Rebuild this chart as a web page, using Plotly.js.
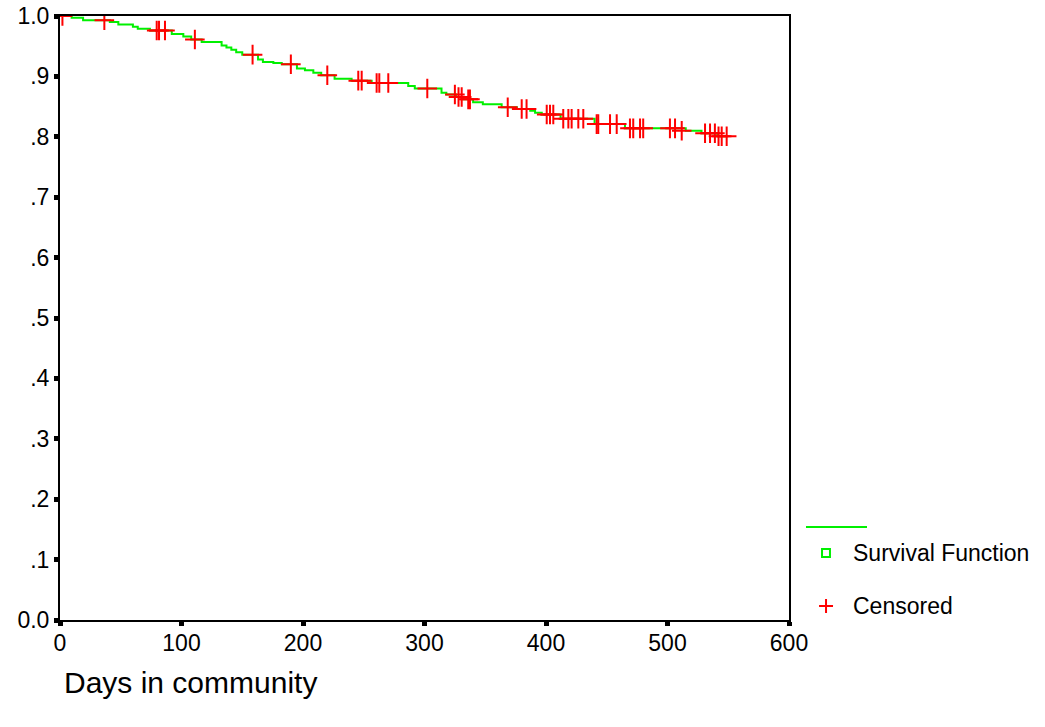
<!DOCTYPE html>
<html>
<head>
<meta charset="utf-8">
<script src="https://cdn.plot.ly/plotly-3.0.1.min.js"></script>
<style>html,body{margin:0;padding:0;background:#fff;}#chart{width:1045px;height:727px;}</style>
</head>
<body>
<div id="chart"></div>
<script>
// Kaplan-Meier step function (time at which survival steps, survival after step)
const stepTimes = [0, 9.6, 19, 41, 48, 60, 64, 74, 92, 101.5, 108, 116.6, 133, 137, 141, 145, 150, 163, 167, 175.6, 182.5, 195, 201.6, 208.5, 215, 226, 240, 256.5, 286.6, 292, 314, 318, 326, 332, 340, 348, 363.5, 376, 387, 391, 396.5, 412, 440, 465, 515, 528, 541, 548.7];
const stepSurv  = [1.000, 0.997, 0.993, 0.990, 0.986, 0.982, 0.979, 0.976, 0.970, 0.966, 0.961, 0.957, 0.951, 0.948, 0.944, 0.940, 0.936, 0.928, 0.924, 0.922, 0.920, 0.913, 0.910, 0.906, 0.902, 0.896, 0.893, 0.889, 0.884, 0.880, 0.873, 0.870, 0.866, 0.862, 0.857, 0.854, 0.849, 0.846, 0.843, 0.840, 0.837, 0.830, 0.821, 0.814, 0.810, 0.806, 0.801, 0.801];

// Censored observations
const censTimes = [2, 36.5, 79.6, 81.5, 86.4, 111, 158.5, 190, 220, 245.5, 248.3, 260.6, 262.8, 270.2, 302.3, 325, 328, 330.6, 336, 337.4, 368.5, 380, 384, 400.6, 403.3, 406, 414.2, 418.4, 421.1, 426.6, 430.7, 441.7, 443, 452.7, 458.2, 469.1, 471.8, 477.4, 480, 502, 506.2, 511.7, 530.9, 535, 539, 542, 544.6, 548.7];
const censSurv  = [1.000, 0.993, 0.976, 0.976, 0.976, 0.961, 0.936, 0.920, 0.902, 0.893, 0.893, 0.889, 0.889, 0.889, 0.880, 0.870, 0.866, 0.866, 0.862, 0.862, 0.849, 0.846, 0.846, 0.837, 0.837, 0.837, 0.830, 0.830, 0.830, 0.830, 0.830, 0.821, 0.821, 0.821, 0.821, 0.814, 0.814, 0.814, 0.814, 0.814, 0.814, 0.810, 0.806, 0.806, 0.806, 0.801, 0.801, 0.801];

const yTickVals = [0, 0.1, 0.2, 0.3, 0.4, 0.5, 0.6, 0.7, 0.8, 0.9, 1.0];
const yTickText = ['0.0', '.1', '.2', '.3', '.4', '.5', '.6', '.7', '.8', '.9', '1.0'];
const xTickVals = [0, 100, 200, 300, 400, 500, 600];

const FONT = 'Liberation Sans, Arial, sans-serif';

const traces = [
  {
    x: stepTimes, y: stepSurv, mode: 'lines', line: {shape: 'hv', color: '#00f000', width: 2},
    showlegend: false, hoverinfo: 'skip'
  },
  {
    x: censTimes, y: censSurv, mode: 'markers', name: 'Censored', showlegend: false,
    marker: {symbol: 'cross-thin', size: 14, color: '#ff0000', line: {color: '#ff0000', width: 2}}
  }
];

const layout = {
  width: 1045, height: 727,
  margin: {l: 60, r: 256, t: 16, b: 107},
  paper_bgcolor: '#ffffff', plot_bgcolor: '#ffffff',
  font: {family: FONT, size: 23, color: '#000'},
  showlegend: false,
  xaxis: {
    range: [0, 600], tickvals: xTickVals, ticktext: xTickVals.map(String),
    showgrid: false, zeroline: false, showline: true, linecolor: '#000', linewidth: 2, mirror: true,
    ticks: 'outside', ticklen: 4, tickwidth: 5, tickcolor: '#000', ticklabelstandoff: -3,
    tickfont: {family: FONT, size: 23, color: '#000'}
  },
  yaxis: {
    range: [0, 1], tickvals: yTickVals, ticktext: yTickText,
    showgrid: false, zeroline: false, showline: true, linecolor: '#000', linewidth: 2, mirror: true,
    ticks: 'outside', ticklen: 4, tickwidth: 5, tickcolor: '#000',
    tickfont: {family: FONT, size: 23, color: '#000'}
  },
  shapes: [
    {type: 'line', xref: 'paper', yref: 'paper', x0: 1.0233, x1: 1.107, y0: 0.154, y1: 0.154,
     line: {color: '#00f000', width: 2}},
    {type: 'rect', xref: 'paper', yref: 'paper', x0: 1.0453, x1: 1.0562, y0: 0.1043, y1: 0.1176,
     line: {color: '#00f000', width: 2}, fillcolor: 'rgba(0,0,0,0)'},
    {type: 'line', xref: 'paper', yref: 'paper', x0: 1.0412, x1: 1.0604, y0: 0.0232, y1: 0.0232,
     line: {color: '#ff0000', width: 2}},
    {type: 'line', xref: 'paper', yref: 'paper', x0: 1.0508, x1: 1.0508, y0: 0.0116, y1: 0.0348,
     line: {color: '#ff0000', width: 2}}
  ],
  annotations: [
    {text: 'Survival Function', xref: 'paper', yref: 'paper', x: 1.085, y: 0.1109, xanchor: 'left', yanchor: 'middle',
     showarrow: false, font: {family: FONT, size: 23, color: '#000'}},
    {text: 'Censored', xref: 'paper', yref: 'paper', x: 1.085, y: 0.0232, xanchor: 'left', yanchor: 'middle',
     showarrow: false, font: {family: FONT, size: 23, color: '#000'}},
    {text: 'Days in community', xref: 'paper', yref: 'paper', x: 0.0027, y: -0.104, xanchor: 'left', yanchor: 'middle',
     showarrow: false, font: {family: FONT, size: 30, color: '#000'}}
  ]
};

Plotly.newPlot('chart', traces, layout, {displayModeBar: false, staticPlot: true});
</script>
</body>
</html>
